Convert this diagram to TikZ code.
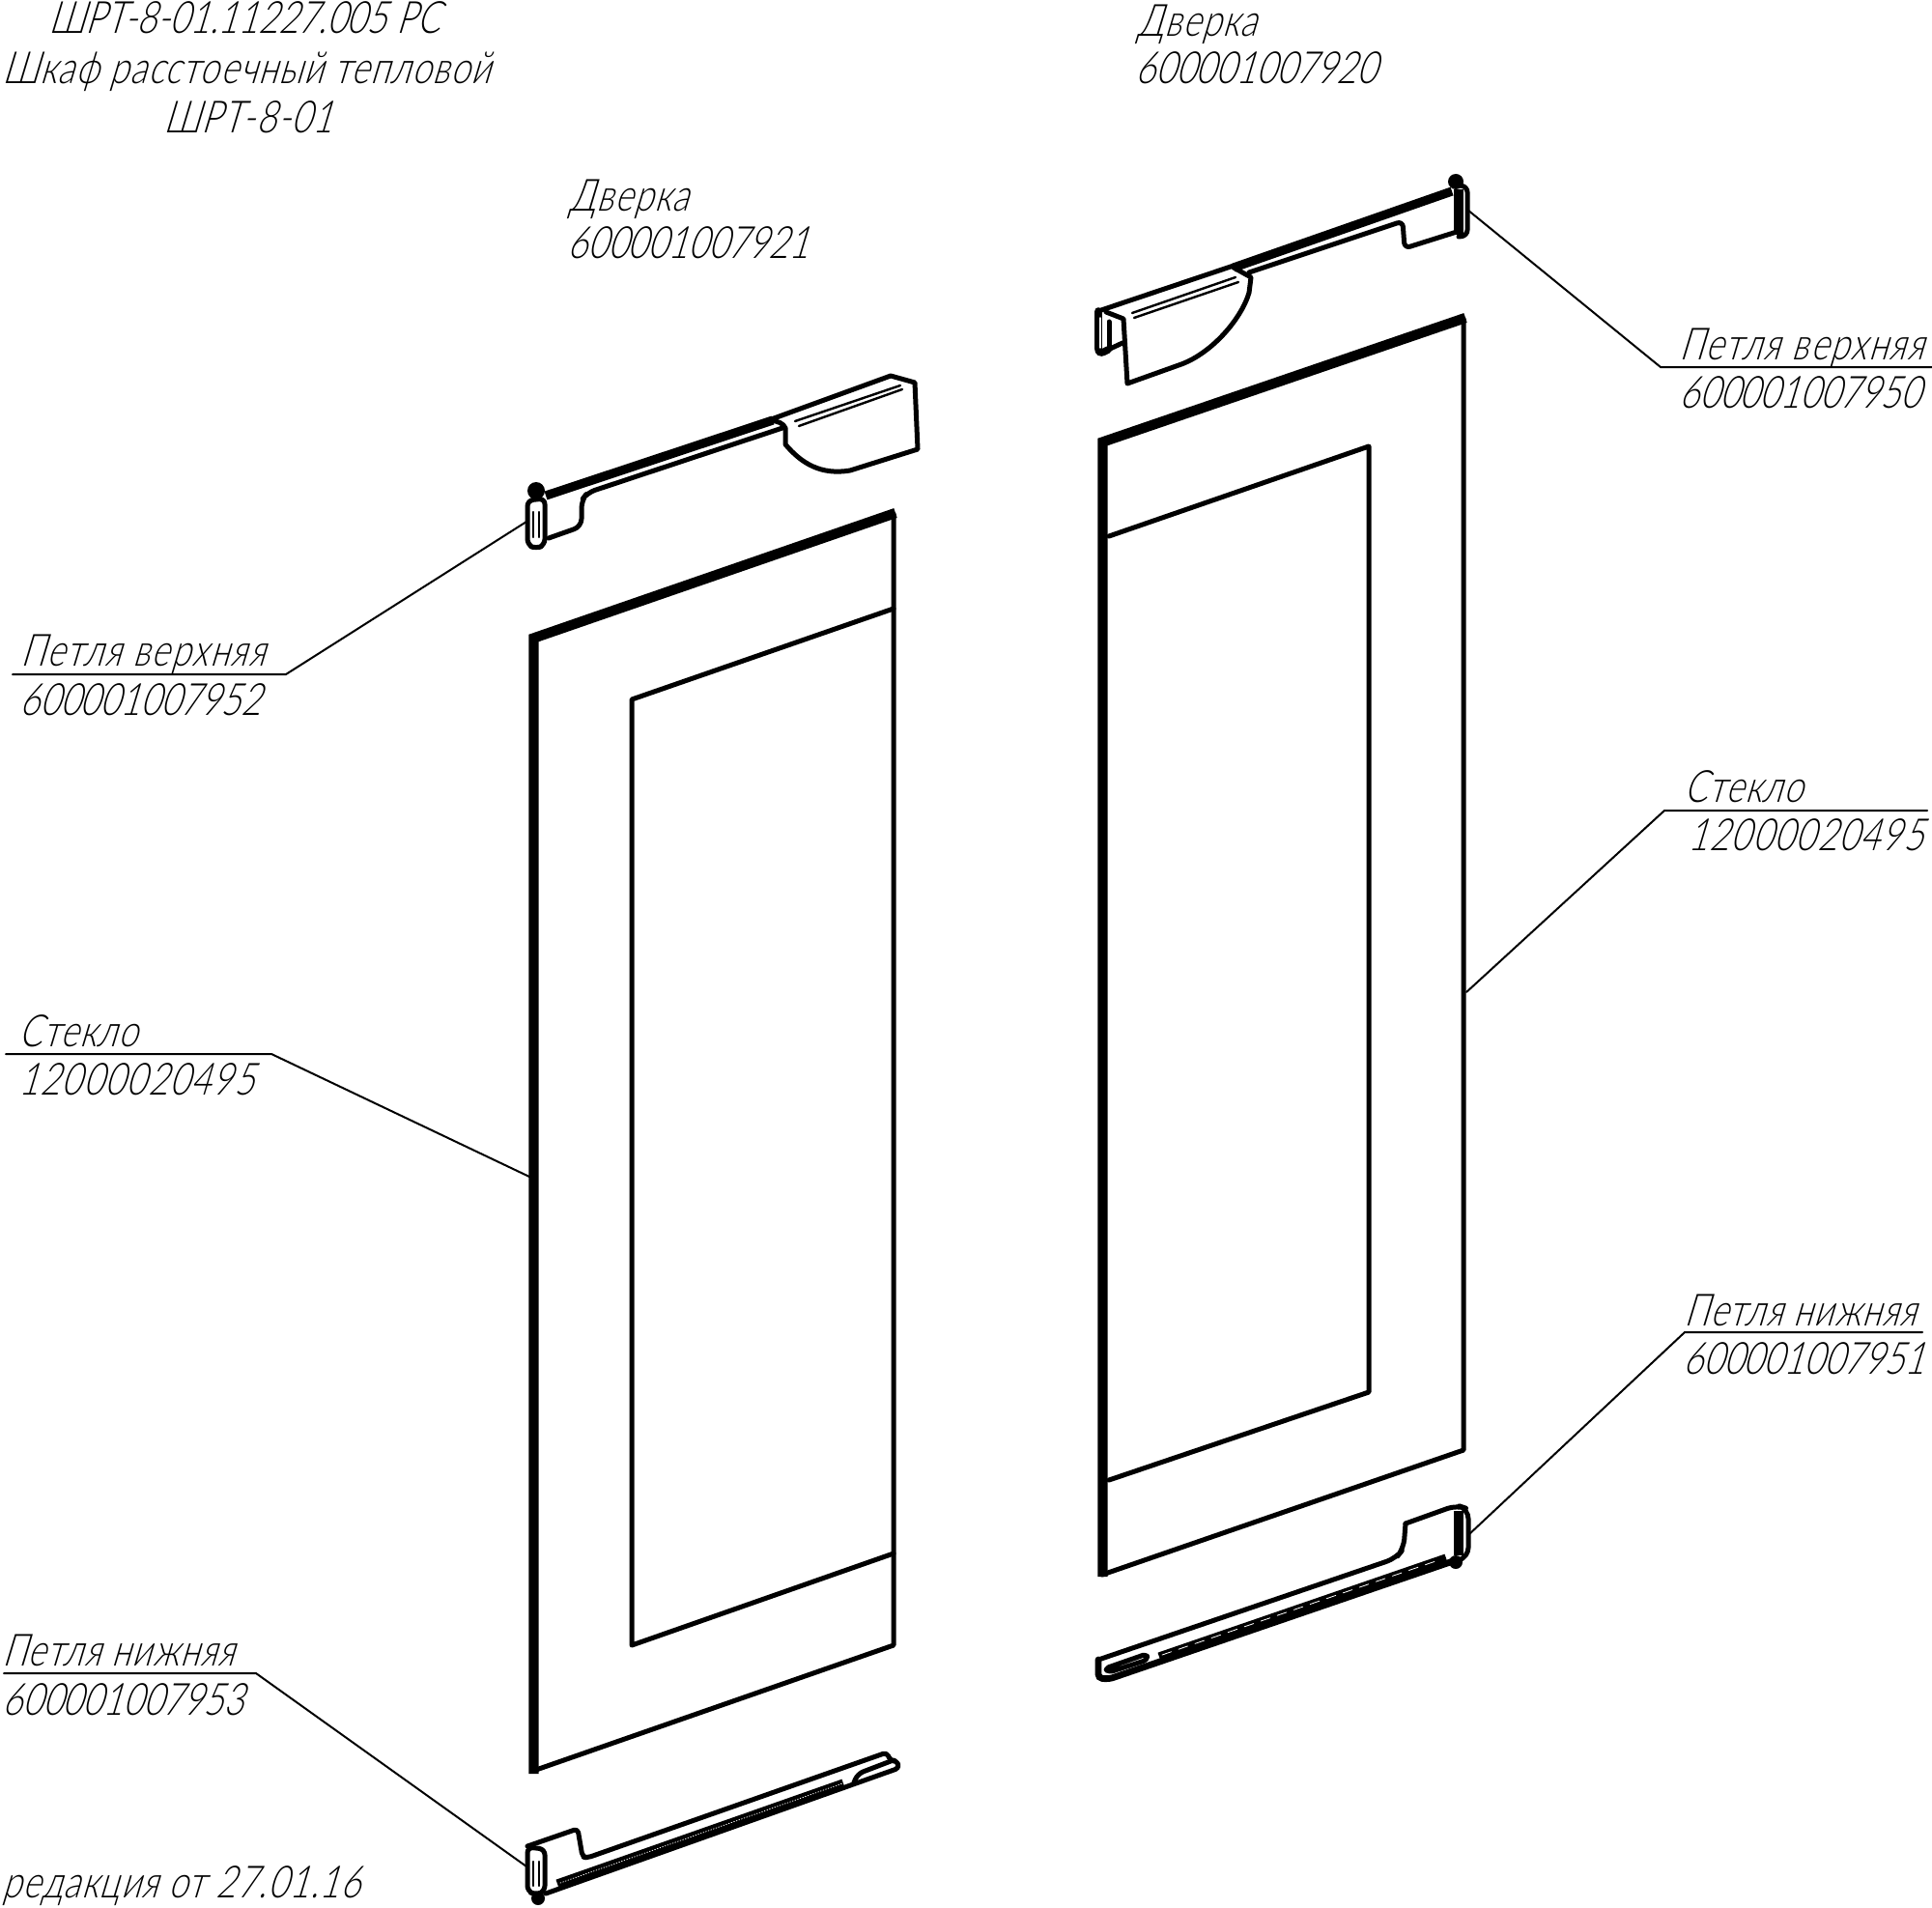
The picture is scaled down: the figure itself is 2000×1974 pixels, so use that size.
\documentclass[tikz,border=0pt]{standalone}
\usepackage{fontspec}
\newfontfamily\gostfont[FakeSlant=0.3,FakeStretch=0.78,UprightFont=* Light]{Lato}
\newfontfamily\gostwide[FakeSlant=0.3,FakeStretch=0.78,LetterSpace=4,UprightFont=* Light]{Lato}
\newfontfamily\gostmid[FakeSlant=0.3,FakeStretch=0.78,LetterSpace=2.6,UprightFont=* Light]{Lato}
\newfontfamily\gostnum[FakeSlant=0.3,FakeStretch=0.78,LetterSpace=3.2,UprightFont=* Light]{Lato}
\begin{document}
\begin{tikzpicture}[x=0.5pt,y=-0.5pt,line cap=round,
    label text/.style={font=\gostfont\fontsize{23}{23}\selectfont,inner sep=0pt,anchor=base west},
    wide text/.style={label text,font=\gostwide\fontsize{23}{23}\selectfont},
    word text/.style={label text,font=\gostmid\fontsize{23}{23}\selectfont},
    num text/.style={label text,font=\gostnum\fontsize{23}{23}\selectfont},
    leader/.style={line width=1pt},
    panel/.style={line width=2.5pt,line join=round},
    panel edge/.style={line width=5.2pt,line join=miter,line cap=butt},
    hinge/.style={line width=2.5pt,line join=round},
    hinge bar/.style={line width=4.6pt,line cap=butt},
    hinge fine/.style={line width=1.2pt}]
    \useasboundingbox (0,0) rectangle (2000,1974);
    % title block
    \node[label text,anchor=base] (title_a) at (253,35) {ШРТ-8-01.11227.005 РС};
    \node[word text,anchor=base] (title_b) at (255,87) {Шкаф расстоечный тепловой};
    \node[word text,anchor=base] (title_c) at (257,138) {ШРТ-8-01};
    \node[word text] (door_r) at (1177,38) {Дверка};
    \node[label text] (door_r_no) at (1175,87) {600001007920};
    \node[word text] (door_l) at (589,219) {Дверка};
    \node[label text] (door_l_no) at (587,268) {600001007921};
    \node[word text] (rev) at (2,1964) {редакция от 27.01.16};
    % left door
    \draw[panel] (925,532) -- (925,1703) -- (552,1833);
    \draw[panel edge] (927,531) -- (552.5,660.5) -- (552.5,1836);
    \draw[panel] (925,630) -- (654,724) -- (654,1703) -- (925,1608);
    % right door
    \draw[panel] (1515,330) -- (1515,1501) -- (1141,1630);
    \draw[panel edge] (1517,329) -- (1141.5,457.5) -- (1141.5,1632);
    \draw[panel] (1148,555) -- (1417,462) -- (1417,1441) -- (1148,1532);
    % left top hinge
    \draw[hinge bar] (565,513) -- (800,435);
    \fill (555,508) circle (9);
    \draw[hinge,fill=white,rounded corners=3] (546,518) -- (564,516) -- (564,564) -- (555,568) -- (546,564) -- cycle;
    \draw[hinge fine] (552,530) -- (552,556) (558,530) -- (558,556);
    \draw[hinge,rounded corners=4] (568,557) -- (602,545) -- (602,518) -- (608,510) -- (810,443);
    \draw[hinge] (797,434.5) -- (922,389) -- (947,396) -- (950,465) -- (880,487)
      .. controls (850,492) and (830,480) .. (813,460) -- (813,443) .. controls (811,438) and (805,436) .. (797,435);
    \draw[hinge fine] (823,436) -- (932,399) (827,441) -- (934,403);
    % right top hinge
    \draw[hinge bar] (1503,198) -- (1277,277);
    \fill (1507,188) circle (8);
    \draw[hinge bar] (1510,196) -- (1510,243);
    \draw[hinge,rounded corners=3] (1510,192) -- (1519,193) -- (1519,244) -- (1510,245);
    \draw[hinge,rounded corners=3] (1293,282) -- (1452,229) -- (1454,257) -- (1508,240);
    \draw[hinge] (1277,275) -- (1137,322);
    \draw[line width=3.8pt,rounded corners=3] (1137,322) -- (1137,367) -- (1147,362);
    \draw[hinge] (1147,362) -- (1162,355);
    \draw[hinge] (1148,333) -- (1148,360);
    \draw[hinge] (1145,323) -- (1163,330) -- (1167,397) -- (1223,377)
      .. controls (1255,365) and (1285,330) .. (1293,303) -- (1295,287) -- (1277,277);
    \draw[hinge fine] (1172,324) -- (1279,287) (1174,329) -- (1282,292);
    \draw[white,line width=0.7pt] (1139,329) -- (1139,360);
    % left bottom hinge
    \draw[hinge,fill=white,rounded corners=3] (546,1912) -- (564,1914) -- (564,1958) -- (555,1961) -- (546,1958) -- cycle;
    \fill (557,1965) circle (7);
    \draw[hinge fine] (552,1927) -- (552,1952) (558,1927) -- (558,1952);
    \draw[hinge,rounded corners=2] (546,1911) -- (598,1893) -- (603,1922) -- (608,1923) -- (918,1814) -- (922,1823) -- (928,1822) -- (931,1830) -- (565,1960);
    \draw[hinge bar] (577,1950) -- (873,1846);
    \draw[hinge,rounded corners=3] (922,1823) -- (888,1836) -- (884,1845);
    \draw[white,line width=0.4pt,densely dotted] (580,1949) -- (875,1845);
    % right bottom hinge
    \draw[hinge bar] (1510,1564) -- (1510,1610);
    \draw[hinge,rounded corners=5] (1455,1577) -- (1508,1558) -- (1520,1562) -- (1520,1612) -- (1510,1615);
    \draw[hinge,rounded corners=5] (1455,1577) -- (1453,1603) -- (1445,1613) -- (1137,1718);
    \draw[line width=3.4pt,rounded corners=2] (1137,1718) -- (1137,1737) -- (1148,1738) -- (1507,1615);
    \fill (1507,1617) circle (7);
    \draw[hinge bar] (1200,1715) -- (1497,1613);
    \draw[hinge,rounded corners=2] (1187,1712) -- (1144,1727) -- (1148,1731) -- (1188,1718) -- cycle;
    \draw[white,line width=0.4pt,dash pattern=on 5pt off 4pt] (1203,1713) -- (1492,1614);
    % leaders
    \coordinate (tr_end) at (1519,217);
    \coordinate (tr_knee) at (1719,380);
    \coordinate (tr_far) at (2000,380);
    \node[wide text] (tr_txt) at (1738,372) {Петля верхняя};
    \node[label text] (tr_no) at (1738,422) {600001007950};
    \draw[leader] (tr_end) -- (tr_knee) -- (tr_far);
    \coordinate (tl_end) at (545,540);
    \coordinate (tl_knee) at (296,698);
    \coordinate (tl_far) at (13,698);
    \node[wide text] (tl_txt) at (21,689) {Петля верхняя};
    \node[label text] (tl_no) at (20,740) {600001007952};
    \draw[leader] (tl_end) -- (tl_knee) -- (tl_far);
    \coordinate (gl_end) at (548,1218);
    \coordinate (gl_knee) at (281,1091);
    \coordinate (gl_far) at (6,1091);
    \node[word text] (gl_txt) at (19,1083) {Стекло};
    \node[num text] (gl_no) at (19,1133) {12000020495};
    \draw[leader] (gl_end) -- (gl_knee) -- (gl_far);
    \coordinate (gr_end) at (1518,1027);
    \coordinate (gr_knee) at (1723,839);
    \coordinate (gr_far) at (1995,839);
    \node[word text] (gr_txt) at (1743,830) {Стекло};
    \node[num text] (gr_no) at (1747,880) {12000020495};
    \draw[leader] (gr_end) -- (gr_knee) -- (gr_far);
    \coordinate (br_end) at (1521,1588);
    \coordinate (br_knee) at (1744,1379);
    \coordinate (br_far) at (1990,1379);
    \node[word text] (br_txt) at (1743,1372) {Петля нижняя};
    \node[label text] (br_no) at (1742,1422) {600001007951};
    \draw[leader] (br_end) -- (br_knee) -- (br_far);
    \coordinate (bl_end) at (545,1932);
    \coordinate (bl_knee) at (265,1732);
    \coordinate (bl_far) at (4,1732);
    \node[word text] (bl_txt) at (2,1724) {Петля нижняя};
    \node[label text] (bl_no) at (2,1775) {600001007953};
    \draw[leader] (bl_end) -- (bl_knee) -- (bl_far);
\end{tikzpicture}
\end{document}
